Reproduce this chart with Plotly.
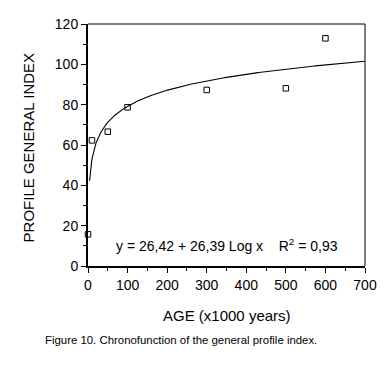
import numpy as np
import plotly.graph_objects as go

# Observed data (age in x1000 years, profile general index)
age = [0, 10, 50, 100, 300, 500, 600]
index_values = [15.7, 62.3, 66.6, 78.7, 87.3, 88.1, 112.9]

# Fitted logarithmic regression shown on the chart
fit_intercept = 26.42
fit_slope = 26.39
fit_r2 = 0.93
fit_x_start, fit_x_end = 4, 700

x_ticks = [0, 100, 200, 300, 400, 500, 600, 700]
y_ticks = [0, 20, 40, 60, 80, 100, 120]

fit_x = np.linspace(fit_x_start, fit_x_end, 400)
fit_y = fit_intercept + fit_slope * np.log10(fit_x)

FONT = "Liberation Sans, Arial, Helvetica, sans-serif"

fig = go.Figure()
fig.add_trace(go.Scatter(x=fit_x, y=fit_y, mode="lines",
                         line=dict(color="black", width=1.1), hoverinfo="skip",
                         showlegend=False))
fig.add_trace(go.Scatter(x=age, y=index_values, mode="markers",
                         marker=dict(symbol="square-open", size=5.5, color="black",
                                     line=dict(color="black", width=1)),
                         cliponaxis=False, showlegend=False))

# The page body adds an 8px margin, so the figure is sized/offset to compensate.
fig.update_layout(
    width=383, height=361,
    margin=dict(l=80, r=26, t=16, b=103),
    paper_bgcolor="white", plot_bgcolor="white",
    font=dict(family=FONT, color="black", size=14),
    xaxis=dict(range=[0, 700], tickvals=x_ticks, ticktext=[str(v) for v in x_ticks],
               showgrid=False, zeroline=False, showline=True, linecolor="black",
               linewidth=2, ticks="outside", ticklen=5, tickwidth=1, tickcolor="black",
               tickfont=dict(size=14), automargin=False,
               minor=dict(dtick=50, ticks="outside", ticklen=3, tickcolor="black", showgrid=False)),
    yaxis=dict(range=[0, 120], tickvals=y_ticks, ticktext=[str(v) for v in y_ticks],
               showgrid=False, zeroline=False, showline=True, linecolor="black",
               linewidth=2, ticks="outside", ticklen=5, tickwidth=1, tickcolor="black",
               tickfont=dict(size=14), automargin=False,
               minor=dict(dtick=10, ticks="outside", ticklen=3, tickcolor="black", showgrid=False)),
    shapes=[
        dict(type="line", xref="paper", yref="paper", x0=0, x1=1, y0=1, y1=1,
             line=dict(color="black", width=1)),
        dict(type="line", xref="paper", yref="paper", x0=1, x1=1, y0=0, y1=1,
             line=dict(color="black", width=1)),
    ],
    annotations=[
        dict(text=f"y = {fit_intercept:.2f} + {fit_slope:.2f} Log x    R<sup>2</sup> = {fit_r2:.2f}".replace(".", ","),
             x=350, y=10.4, xref="x", yref="y", showarrow=False,
             font=dict(size=14), xanchor="center", yanchor="middle"),
        dict(text="AGE (x1000 years)", xref="paper", yref="paper", x=0.5036, y=-0.2025,
             showarrow=False, font=dict(size=15), xanchor="center", yanchor="middle"),
        dict(text="PROFILE GENERAL INDEX", xref="paper", yref="paper", x=-0.2166, y=0.49,
             showarrow=False, font=dict(size=15), textangle=-90, xanchor="center", yanchor="middle"),
        dict(text="Figure 10. Chronofunction of the general profile index.", xref="paper", yref="paper",
             x=-0.1625, y=-0.306, showarrow=False, font=dict(size=11.4),
             xanchor="left", yanchor="middle"),
    ],
)

fig.write_html("out.html")
